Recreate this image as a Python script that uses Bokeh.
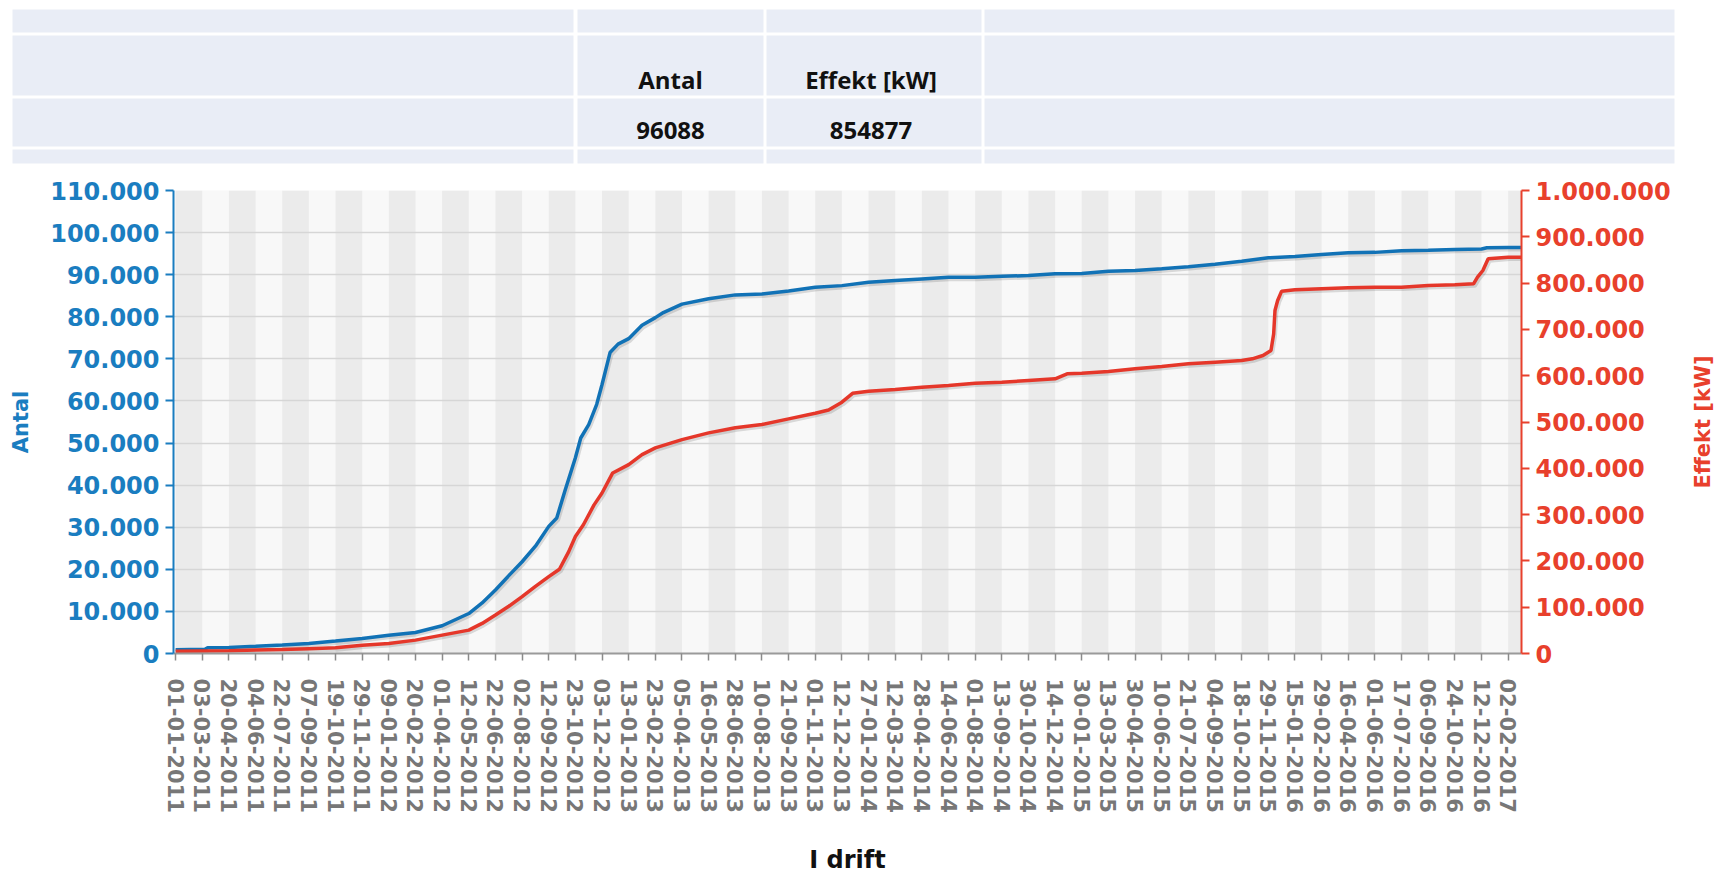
import math
from bokeh.plotting import figure
from bokeh.models import Range1d, LinearAxis, FixedTicker
from bokeh.layouts import column, row
from bokeh.embed import file_html
from bokeh.resources import INLINE
from bokeh.core.properties import value

# ---------------- data ----------------
date_labels = [
    "01-01-2011", "03-03-2011", "20-04-2011", "04-06-2011", "22-07-2011",
    "07-09-2011", "19-10-2011", "29-11-2011", "09-01-2012", "20-02-2012",
    "01-04-2012", "12-05-2012", "22-06-2012", "02-08-2012", "12-09-2012",
    "23-10-2012", "03-12-2012", "13-01-2013", "23-02-2013", "05-04-2013",
    "16-05-2013", "28-06-2013", "10-08-2013", "21-09-2013", "01-11-2013",
    "12-12-2013", "27-01-2014", "12-03-2014", "28-04-2014", "14-06-2014",
    "01-08-2014", "13-09-2014", "30-10-2014", "14-12-2014", "30-01-2015",
    "13-03-2015", "30-04-2015", "10-06-2015", "21-07-2015", "04-09-2015",
    "18-10-2015", "29-11-2015", "15-01-2016", "29-02-2016", "16-04-2016",
    "01-06-2016", "17-07-2016", "06-09-2016", "24-10-2016", "12-12-2016",
    "02-02-2017",
]

# position along the category axis (in label steps) and cumulative values
antal_x = [0, 1.1, 1.2, 2, 3, 4, 5, 6, 7, 8, 9, 10, 11, 11.5, 12, 12.5, 13,
           13.5, 14, 14.3, 14.6, 15, 15.2, 15.5, 15.8, 16, 16.3, 16.6, 17,
           17.5, 18, 18.3, 19, 20, 21, 22, 23, 24, 25, 26, 27, 28, 29, 30, 31,
           32, 33, 34, 35, 36, 37, 38, 39, 40, 41, 42, 43, 44, 45, 46, 47, 48,
           49, 49.2, 50, 50.5]
antal_y = [900, 1000, 1350, 1450, 1700, 2000, 2400, 2950, 3550, 4350, 5000,
           6600, 9500, 12000, 15100, 18500, 21800, 25500, 30200, 32200, 38500,
           46500, 51200, 54400, 59200, 63900, 71500, 73500, 74800, 78000,
           79800, 81000, 83000, 84300, 85200, 85400, 86100, 87000, 87400,
           88200, 88600, 89000, 89400, 89400, 89600, 89800, 90200, 90300,
           90800, 91000, 91400, 91900, 92500, 93200, 94000, 94300, 94800,
           95200, 95300, 95700, 95800, 96000, 96100, 96400, 96450, 96450]

effekt_x = [0, 1, 2, 3, 4, 5, 6, 7, 8, 9, 10, 11, 11.5, 12, 12.5, 13, 13.5,
            14, 14.4, 14.75, 15, 15.3, 15.7, 16, 16.4, 17, 17.5, 18, 19, 20,
            21, 22, 23, 24, 24.5, 25, 25.4, 26, 27, 28, 29, 30, 31, 32, 33,
            33.45, 34, 35, 36, 37, 38, 39, 40, 40.4, 40.8, 41.1, 41.2, 41.25,
            41.35, 41.5, 42, 43, 44, 45, 46, 47, 48, 48.7, 48.85, 49.05, 49.25,
            50, 50.5]
effekt_y = [5000, 5500, 6000, 7500, 8700, 10500, 12300, 18000, 21700, 28900,
            39700, 50500, 65000, 83000, 102000, 122700, 145000, 166000,
            182000, 220000, 252700, 278000, 321000, 346600, 390000, 408000,
            429600, 444000, 462000, 476500, 487400, 494600, 506800, 519000,
            526000, 542800, 562000, 566600, 570200, 575000, 578800, 583900,
            586000, 589600, 593200, 604000, 605500, 609000, 614800, 620000,
            625600, 629200, 632800, 636400, 643600, 654400, 690000, 740800,
            762400, 782600, 785400, 787600, 789800, 791200, 791200, 794800,
            796300, 798400, 812800, 827200, 852400, 856000, 856000]

left_ticks = list(range(0, 110001, 10000))
right_ticks = list(range(0, 1000001, 100000))

table_headers = ["Antal", "Effekt [kW]"]
table_values = ["96088", "854877"]
right_title = "Effekt [kW]"

# ---------------- styling ----------------
BLUE = "#1a7dc0"
BLUE_LINE = "#1172b6"
RED = "#e8402c"
RED_LINE = "#e5372a"
GRAY_LBL = "#777777"
FONT = "DejaVu Sans"

W = 1715
TW = 25            # narrow strip on the right carrying the right-axis title
PW = W - TW
TH = 165
CH = 712
ML, MR, MT, MB = 173, PW - 1521, 25, CH - (653 - TH)


def dotted(v):
    return f"{v:,}".replace(",", ".")


# ---------------- table ----------------
t = figure(width=W, height=TH, x_range=Range1d(0, W), y_range=Range1d(TH, 0),
           output_backend="svg", toolbar_location=None, x_axis_location=None,
           y_axis_location=None, min_border=0, outline_line_color=None)
try:
    t.frame_align = False
except Exception:
    pass
t.grid.visible = False
col_l = [12, 577, 766, 984]
col_r = [573, 763, 981, 1674]
row_t = [9, 35, 98, 149]
row_b = [32, 95, 146, 163]
ql, qr, qt, qb = [], [], [], []
for a, b in zip(row_t, row_b):
    for l, r in zip(col_l, col_r):
        ql.append(l); qr.append(r); qt.append(a); qb.append(b)
t.quad(left=ql, right=qr, top=qt, bottom=qb, fill_color="#e9edf6", line_color=None)
hx = [(col_l[1] + col_r[1]) / 2, (col_l[2] + col_r[2]) / 2 - 3]
t.text(x=hx, y=[79, 79], text=table_headers, text_font=value("Open Sans"),
       text_font_style="bold", text_font_size="24px", text_align="center",
       text_baseline="alphabetic", text_color="#111111")
t.text(x=hx, y=[130, 130], text=table_values, text_font=value("Open Sans"),
       text_font_style="bold", text_font_size="24px", text_align="center",
       text_baseline="alphabetic", text_color="#111111")

# ---------------- chart ----------------
x_start, x_end = -0.08, 50.5
p = figure(width=PW, height=CH, x_range=Range1d(x_start, x_end),
           y_range=Range1d(0, 110000), output_backend="svg",
           toolbar_location=None, min_border_left=ML, min_border_right=MR,
           min_border_top=MT, min_border_bottom=MB,
           background_fill_color="#f8f8f8", border_fill_color="white",
           outline_line_color=None)
try:
    p.frame_align = False
except Exception:
    pass
p.extra_y_ranges = {"eff": Range1d(0, 1000000)}

# alternating column bands between category ticks
n = len(date_labels)
bl = [max(i, x_start) for i in range(0, n, 2)]
br = [min(i + 1, x_end) for i in range(0, n, 2)]
bands = p.quad(left=bl, right=br, bottom=0, top=110000, fill_color="#ebebeb",
               line_color=None)
bands.level = "image"

p.xgrid.visible = False
p.ygrid.ticker = FixedTicker(ticks=left_ticks)
p.ygrid.grid_line_color = "#d6d6d6"
p.ygrid.grid_line_width = 1.6

# lines with soft shadow
sx = 1.6 / 26.66
p.line([v + sx for v in antal_x], [v - 520 for v in antal_y], line_color="#000000",
       line_alpha=0.13, line_width=3.5)
p.line([v + sx for v in effekt_x], [v - 4700 for v in effekt_y], y_range_name="eff",
       line_color="#000000", line_alpha=0.13, line_width=3.5)
p.line(antal_x, antal_y, line_color=BLUE_LINE, line_width=3.5)
p.line(effekt_x, effekt_y, y_range_name="eff", line_color=RED_LINE, line_width=3.5)

# x axis
xa = p.xaxis[0]
xa.ticker = FixedTicker(ticks=list(range(n)))
xa.major_label_overrides = {i: lab for i, lab in enumerate(date_labels)}
xa.major_label_orientation = "vertical"
xa.major_label_text_font = FONT
xa.major_label_text_font_style = "bold"
xa.major_label_text_font_size = "21px"
xa.major_label_text_color = GRAY_LBL
xa.major_label_standoff = 18
xa.axis_line_color = "#9a9a9a"
xa.axis_line_width = 2
xa.major_tick_line_color = "#8a8a8a"
xa.major_tick_line_width = 1.5
xa.major_tick_out = 7
xa.major_tick_in = 0
xa.minor_tick_line_color = None
xa.axis_label = "I drift"
xa.axis_label_text_font = FONT
xa.axis_label_text_font_style = "bold"
xa.axis_label_text_font_size = "24px"
xa.axis_label_text_color = "#111111"
xa.axis_label_standoff = 30

# left axis
ya = p.yaxis[0]
ya.ticker = FixedTicker(ticks=left_ticks)
ya.major_label_overrides = {v: dotted(v) for v in left_ticks}
ya.major_label_text_font = FONT
ya.major_label_text_font_style = "bold"
ya.major_label_text_font_size = "24px"
ya.major_label_text_color = BLUE
ya.major_label_standoff = 6
ya.axis_line_color = BLUE
ya.axis_line_width = 2
ya.major_tick_line_color = BLUE
ya.major_tick_line_width = 2
ya.major_tick_out = 8
ya.major_tick_in = 0
ya.minor_tick_line_color = None
ya.axis_label = "Antal"
ya.axis_label_text_font = FONT
ya.axis_label_text_font_style = "bold"
ya.axis_label_text_font_size = "21px"
ya.axis_label_text_color = BLUE
ya.axis_label_standoff = 14

# right axis
ra = LinearAxis(y_range_name="eff", ticker=FixedTicker(ticks=right_ticks))
ra.major_label_overrides = {v: dotted(v) for v in right_ticks}
ra.major_label_text_font = FONT
ra.major_label_text_font_style = "bold"
ra.major_label_text_font_size = "24px"
ra.major_label_text_color = RED
ra.major_label_standoff = 6
ra.axis_line_color = RED
ra.axis_line_width = 2
ra.major_tick_line_color = RED
ra.major_tick_line_width = 2
ra.major_tick_out = 8
ra.major_tick_in = 0
ra.minor_tick_line_color = None
p.add_layout(ra, "right")

# ---------------- right-axis title strip ----------------
rt = figure(width=TW, height=CH, x_range=Range1d(0, TW), y_range=Range1d(CH, 0),
            output_backend="svg", toolbar_location=None, x_axis_location=None,
            y_axis_location=None, min_border=0, outline_line_color=None)
try:
    rt.frame_align = False
except Exception:
    pass
rt.grid.visible = False
frame_mid = MT + (CH - MT - MB) / 2
rt.text(x=[TW / 2], y=[frame_mid], text=[right_title], angle=math.pi / 2,
        text_align="center", text_baseline="middle", text_font=value(FONT),
        text_font_style="bold", text_font_size="21px", text_color=RED)

layout = column(t, row(p, rt))
open("out.html", "w").write(file_html(layout, INLINE))
